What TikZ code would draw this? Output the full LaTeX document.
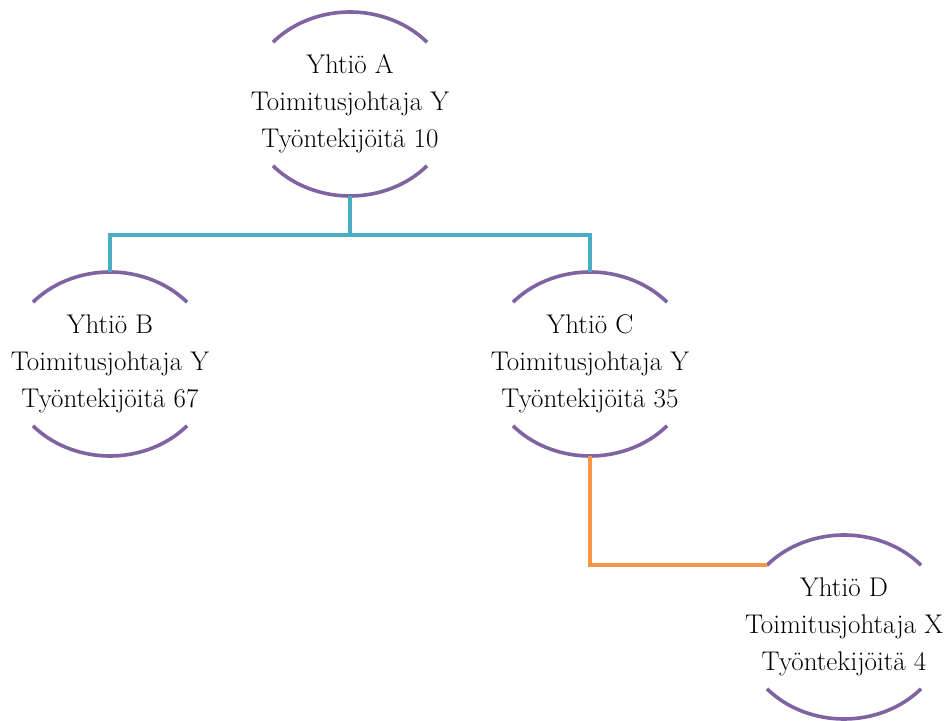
\documentclass[tikz,border=0pt]{standalone}
\usetikzlibrary{calc}
\definecolor{arcpurple}{HTML}{8064A2}
\definecolor{linkteal}{HTML}{4BACC6}
\definecolor{linkorange}{HTML}{F79646}
\tikzset{
  company/.style={rectangle, inner sep=0pt, minimum width=208pt, minimum height=184pt,
    align=center, font=\fontsize{27}{37}\selectfont, text=black},
  arcline/.style={draw=arcpurple, line width=3.6pt},
  tealline/.style={draw=linkteal, line width=3.8pt},
  orangeline/.style={draw=linkorange, line width=3.8pt},
}
\newcommand{\compArcs}[1]{%
  \draw[arcline] ($(#1)+(42.2:104pt and 92pt)$) arc[start angle=42.2, end angle=137.8, x radius=104pt, y radius=92pt];
  \draw[arcline] ($(#1)+(222.2:104pt and 92pt)$) arc[start angle=222.2, end angle=317.8, x radius=104pt, y radius=92pt];
}
\begin{document}
\begin{tikzpicture}[x=1pt,y=1pt]
\useasboundingbox (0,0) rectangle (950,720);
\node[company] (A) at (350,616) {Yhtiö A\\Toimitusjohtaja Y\\Työntekijöitä 10};
\node[company] (B) at (110,356) {Yhtiö B\\Toimitusjohtaja Y\\Työntekijöitä 67};
\node[company] (C) at (590,356) {Yhtiö C\\Toimitusjohtaja Y\\Työntekijöitä 35};
\node[company] (D) at (844,93) {Yhtiö D\\Toimitusjohtaja X\\Työntekijöitä 4};
\compArcs{A}
\compArcs{B}
\compArcs{C}
\compArcs{D}
\coordinate (Dtl) at ($(D)+(137.8:104pt and 92pt)$);
\draw[tealline] (A.south) -- ++(0,-39) -| (B.north);
\draw[tealline] (A.south) -- ++(0,-39) -| (C.north);
\draw[orangeline] (C.south) |- (Dtl);
\end{tikzpicture}
\end{document}
